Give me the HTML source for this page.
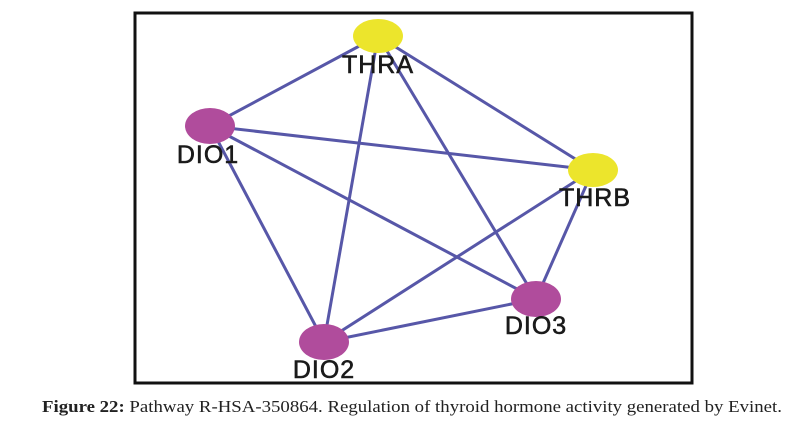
<!DOCTYPE html>
<html><head><meta charset="utf-8"><style>
html,body{margin:0;padding:0;background:#fff;width:812px;height:430px;overflow:hidden}
.cap{position:absolute;left:42px;top:397px;font-family:"Liberation Serif",serif;font-size:16.5px;color:#222;white-space:nowrap;transform-origin:0 0;transform:scaleX(1.14)}
</style></head><body>
<svg width="812" height="430" style="position:absolute;left:0;top:0">
<rect x="135" y="13" width="557" height="370" fill="none" stroke="#111" stroke-width="3"/>
<g stroke="#5757a8" stroke-width="3" stroke-linecap="round">
<line x1="378" y1="36" x2="210" y2="126"/>
<line x1="378" y1="36" x2="324" y2="342"/>
<line x1="378" y1="36" x2="536" y2="299"/>
<line x1="378" y1="36" x2="593" y2="170"/>
<line x1="210" y1="126" x2="593" y2="170"/>
<line x1="210" y1="126" x2="536" y2="299"/>
<line x1="210" y1="126" x2="324" y2="342"/>
<line x1="593" y1="170" x2="324" y2="342"/>
<line x1="593" y1="170" x2="536" y2="299"/>
<line x1="324" y1="342" x2="536" y2="299"/>
</g>
<ellipse cx="378" cy="36" rx="25" ry="17" fill="#ece52c"/>
<ellipse cx="593" cy="170" rx="25" ry="17" fill="#ece52c"/>
<ellipse cx="210" cy="126" rx="25" ry="18" fill="#b04c9c"/>
<ellipse cx="536" cy="299" rx="25" ry="18" fill="#b04c9c"/>
<ellipse cx="324" cy="342" rx="25" ry="18" fill="#b04c9c"/>
<g font-family="Liberation Sans, sans-serif" font-size="25" fill="#1a1a1a" stroke="#1a1a1a" stroke-width="0.6" letter-spacing="1" text-anchor="middle">
<text x="378" y="73">THRA</text>
<text x="208" y="163">DIO1</text>
<text x="595" y="206">THRB</text>
<text x="536" y="334">DIO3</text>
<text x="324" y="378">DIO2</text>
</g>
</svg>
<div class="cap"><b>Figure 22:</b> Pathway R-HSA-350864. Regulation of thyroid hormone activity generated by Evinet.</div>
</body></html>
